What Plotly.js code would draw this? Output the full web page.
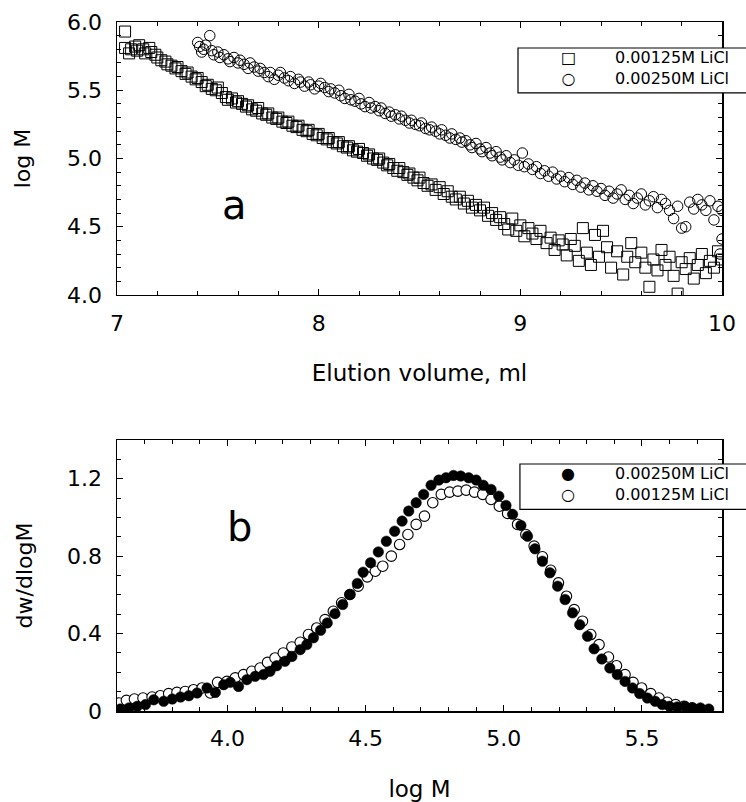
<!DOCTYPE html>
<html>
<head>
<meta charset="utf-8">
<script src="https://cdn.plot.ly/plotly-3.0.1.min.js"></script>
<style>html,body{margin:0;padding:0;background:#fff;}#chart{width:746px;height:802px;}</style>
</head>
<body>
<div id="chart"></div>
<script>
// ---- Panel a: log M vs elution volume ----
const sqVol = [7.04,7.04,7.06,7.07,7.09,7.10,7.11,7.13,7.14,7.16,7.17,7.19,7.20,7.22,7.24,7.25,7.27,7.29,7.30,7.32,7.34,7.35,7.37,7.39,7.40,7.42,7.44,7.45,7.47,7.49,7.50,7.52,7.54,7.55,7.57,7.59,7.60,7.62,7.64,7.65,7.67,7.69,7.70,7.72,7.74,7.75,7.77,7.79,7.80,7.82,7.84,7.85,7.87,7.89,7.90,7.92,7.94,7.95,7.97,7.99,8.00,8.02,8.04,8.05,8.07,8.09,8.10,8.12,8.14,8.15,8.17,8.19,8.20,8.22,8.24,8.25,8.27,8.29,8.30,8.32,8.34,8.35,8.37,8.39,8.40,8.42,8.44,8.45,8.47,8.49,8.50,8.52,8.54,8.56,8.58,8.60,8.62,8.64,8.66,8.68,8.70,8.72,8.74,8.76,8.78,8.80,8.82,8.84,8.86,8.88,8.90,8.92,8.94,8.96,8.98,9.00,9.02,9.04,9.06,9.08,9.10,9.13,9.15,9.17,9.19,9.21,9.23,9.25,9.27,9.29,9.31,9.33,9.35,9.37,9.39,9.41,9.43,9.45,9.48,9.51,9.53,9.55,9.57,9.60,9.62,9.64,9.66,9.68,9.70,9.72,9.74,9.76,9.78,9.80,9.82,9.84,9.86,9.88,9.90,9.92,9.94,9.96,9.98,10.00];
const sqLogM = [5.93,5.81,5.77,5.80,5.82,5.79,5.83,5.80,5.77,5.81,5.78,5.76,5.74,5.72,5.71,5.69,5.68,5.66,5.67,5.64,5.62,5.63,5.60,5.58,5.59,5.56,5.53,5.54,5.51,5.50,5.52,5.48,5.45,5.43,5.44,5.41,5.42,5.40,5.38,5.39,5.36,5.35,5.37,5.33,5.32,5.33,5.30,5.29,5.30,5.27,5.26,5.27,5.24,5.23,5.24,5.21,5.20,5.21,5.18,5.17,5.18,5.15,5.14,5.15,5.12,5.11,5.12,5.09,5.08,5.09,5.06,5.05,5.07,5.04,5.02,5.03,5.00,4.99,5.00,4.97,4.95,4.96,4.93,4.91,4.93,4.90,4.88,4.89,4.86,4.84,4.86,4.82,4.80,4.81,4.77,4.79,4.74,4.76,4.72,4.70,4.72,4.67,4.69,4.64,4.66,4.62,4.64,4.58,4.60,4.55,4.57,4.52,4.48,4.56,4.47,4.51,4.43,4.49,4.45,4.41,4.47,4.38,4.42,4.33,4.40,4.37,4.29,4.41,4.36,4.25,4.49,4.31,4.22,4.44,4.28,4.47,4.35,4.20,4.32,4.15,4.28,4.38,4.24,4.31,4.20,4.06,4.26,4.18,4.33,4.22,4.28,4.14,4.01,4.24,4.19,4.27,4.12,4.22,4.30,4.16,4.25,4.20,4.32,4.26];

const ciVol = [7.40,7.41,7.42,7.43,7.44,7.46,7.47,7.48,7.50,7.51,7.53,7.55,7.56,7.58,7.60,7.61,7.63,7.65,7.66,7.68,7.70,7.71,7.73,7.75,7.76,7.78,7.80,7.81,7.83,7.85,7.86,7.88,7.90,7.91,7.93,7.95,7.96,7.98,8.00,8.01,8.03,8.05,8.06,8.08,8.10,8.11,8.13,8.15,8.16,8.18,8.20,8.21,8.23,8.25,8.26,8.28,8.30,8.31,8.33,8.35,8.36,8.38,8.40,8.41,8.43,8.45,8.46,8.48,8.50,8.51,8.53,8.55,8.56,8.58,8.60,8.61,8.63,8.65,8.66,8.68,8.70,8.71,8.73,8.75,8.76,8.78,8.80,8.81,8.83,8.85,8.86,8.88,8.90,8.91,8.93,8.95,8.97,8.99,9.01,9.02,9.04,9.06,9.08,9.10,9.12,9.14,9.16,9.18,9.20,9.22,9.24,9.26,9.28,9.30,9.32,9.34,9.36,9.38,9.40,9.42,9.44,9.46,9.48,9.50,9.52,9.54,9.56,9.58,9.60,9.62,9.64,9.66,9.68,9.70,9.72,9.74,9.76,9.78,9.80,9.82,9.84,9.86,9.88,9.90,9.92,9.94,9.96,9.98,10.00,10.00,9.99];
const ciLogM = [5.85,5.82,5.78,5.80,5.83,5.90,5.79,5.76,5.78,5.74,5.76,5.73,5.71,5.74,5.70,5.72,5.69,5.66,5.70,5.67,5.64,5.66,5.63,5.60,5.63,5.58,5.61,5.63,5.59,5.57,5.60,5.55,5.58,5.56,5.53,5.56,5.54,5.51,5.53,5.55,5.52,5.49,5.51,5.48,5.50,5.46,5.44,5.47,5.43,5.42,5.44,5.40,5.38,5.41,5.37,5.38,5.35,5.37,5.33,5.34,5.31,5.32,5.29,5.31,5.28,5.26,5.28,5.25,5.24,5.26,5.22,5.21,5.23,5.20,5.18,5.21,5.17,5.15,5.18,5.14,5.15,5.12,5.13,5.10,5.08,5.11,5.07,5.05,5.08,5.04,5.02,5.05,5.01,4.99,5.02,4.97,4.99,4.95,5.04,4.94,4.96,4.92,4.94,4.89,4.91,4.87,4.90,4.85,4.87,4.83,4.86,4.81,4.84,4.79,4.82,4.77,4.80,4.76,4.78,4.73,4.76,4.71,4.74,4.77,4.70,4.73,4.67,4.71,4.74,4.66,4.69,4.72,4.64,4.70,4.67,4.62,4.56,4.65,4.49,4.50,4.68,4.63,4.70,4.66,4.62,4.69,4.55,4.65,4.62,4.41,4.30];

// ---- Panel b: dw/dlogM vs log M ----
const filledLogM = [3.612,3.643,3.673,3.703,3.733,3.769,3.800,3.830,3.860,3.890,3.926,3.956,3.986,4.010,4.040,4.070,4.100,4.130,4.154,4.178,4.208,4.233,4.263,4.287,4.311,4.337,4.361,4.389,4.417,4.443,4.470,4.491,4.518,4.546,4.575,4.605,4.632,4.656,4.683,4.710,4.737,4.765,4.791,4.818,4.844,4.873,4.900,4.926,4.954,4.982,5.008,5.032,5.062,5.086,5.113,5.140,5.167,5.195,5.222,5.249,5.275,5.303,5.327,5.355,5.384,5.411,5.439,5.466,5.492,5.520,5.548,5.574,5.600,5.628,5.656,5.682,5.712,5.742];
const filledDw = [0.010,0.016,0.024,0.033,0.058,0.050,0.062,0.072,0.079,0.093,0.119,0.096,0.136,0.148,0.127,0.162,0.179,0.188,0.205,0.234,0.257,0.282,0.317,0.343,0.378,0.417,0.455,0.503,0.550,0.602,0.659,0.717,0.766,0.822,0.877,0.929,0.981,1.033,1.076,1.119,1.166,1.193,1.205,1.217,1.214,1.205,1.193,1.166,1.145,1.110,1.062,1.016,0.959,0.903,0.838,0.774,0.714,0.645,0.576,0.507,0.446,0.386,0.321,0.269,0.222,0.188,0.153,0.119,0.090,0.067,0.050,0.033,0.024,0.021,0.024,0.016,0.016,0.010];
const openLogM = [3.607,3.634,3.663,3.694,3.727,3.757,3.787,3.817,3.847,3.877,3.908,3.938,3.964,3.998,4.028,4.058,4.088,4.118,4.145,4.172,4.202,4.233,4.263,4.293,4.323,4.353,4.383,4.413,4.443,4.473,4.506,4.535,4.562,4.593,4.623,4.653,4.683,4.713,4.743,4.774,4.804,4.834,4.864,4.894,4.924,4.954,4.984,5.014,5.050,5.080,5.110,5.140,5.170,5.198,5.227,5.255,5.285,5.315,5.345,5.379,5.408,5.439,5.468,5.499,5.532,5.562,5.592,5.622,5.652,5.682];
const openDw = [0.041,0.055,0.062,0.067,0.072,0.079,0.090,0.096,0.101,0.110,0.119,0.093,0.148,0.153,0.171,0.188,0.205,0.222,0.251,0.274,0.300,0.331,0.355,0.395,0.429,0.472,0.515,0.559,0.602,0.645,0.693,0.722,0.748,0.800,0.860,0.912,0.964,1.007,1.076,1.119,1.131,1.136,1.141,1.131,1.119,1.093,1.058,1.021,0.964,0.912,0.852,0.797,0.727,0.662,0.593,0.524,0.464,0.395,0.343,0.279,0.234,0.188,0.148,0.119,0.090,0.067,0.045,0.033,0.024,0.016];

// ---- Tick labels and texts ----
const aXTicks = [7, 8, 9, 10];
const aYTicks = [4.0, 4.5, 5.0, 5.5, 6.0];
const bXTicks = [4.0, 4.5, 5.0, 5.5];
const bXTickText = ["4.0", "4.5", "5.0", "5.5"];
const bYTicks = [0, 0.4, 0.8, 1.2];
const bYTickText = ["0", "0.4", "0.8", "1.2"];
const legendA = ["0.00125M LiCl", "0.00250M LiCl"];
const legendB = ["0.00250M LiCl", "0.00125M LiCl"];

const FONT = "DejaVu Sans, Liberation Sans, Arial, sans-serif";

const traces = [
  {x: sqVol, y: sqLogM, type: "scatter", mode: "markers", name: legendA[0], xaxis: "x", yaxis: "y",
   marker: {symbol: "square-open", size: 11, color: "#000", line: {width: 1, color: "#000"}}},
  {x: ciVol, y: ciLogM, type: "scatter", mode: "markers", name: legendA[1], xaxis: "x", yaxis: "y",
   marker: {symbol: "circle-open", size: 10.5, color: "#000", line: {width: 1, color: "#000"}}},
  {x: openLogM, y: openDw, type: "scatter", mode: "markers", name: legendB[1], xaxis: "x2", yaxis: "y2",
   marker: {symbol: "circle", size: 10.5, color: "#fff", line: {width: 1.1, color: "#000"}}},
  {x: filledLogM, y: filledDw, type: "scatter", mode: "markers", name: legendB[0], xaxis: "x2", yaxis: "y2",
   marker: {symbol: "circle", size: 10.5, color: "#000", line: {width: 0.5, color: "#000"}}}
];

const axisCommon = {
  showline: true, linecolor: "#000", linewidth: 1.5, mirror: "allticks",
  ticks: "inside", ticklen: 6, tickwidth: 1, tickcolor: "#000",
  showgrid: false, zeroline: false, fixedrange: true,
  tickfont: {family: FONT, size: 22, color: "#000"}
};

const layout = {
  width: 746, height: 802,
  margin: {l: 117, r: 24, t: 22, b: 91},
  paper_bgcolor: "#fff", plot_bgcolor: "#fff",
  showlegend: false,
  font: {family: FONT, color: "#000"},
  xaxis: Object.assign({}, axisCommon, {
    domain: [0, 1], anchor: "y", range: [7, 10], tickmode: "array", tickvals: aXTicks,
    minor: {dtick: 0.2, ticks: "inside", ticklen: 4, tickcolor: "#000", showgrid: false},
    ticklabelstandoff: 8,
    title: {text: "Elution volume, ml", font: {family: FONT, size: 23, color: "#000"}, standoff: 30}
  }),
  yaxis: Object.assign({}, axisCommon, {
    domain: [0.6038, 1], anchor: "x", range: [4, 6], tickmode: "array", tickvals: aYTicks, tickformat: ".1f",
    minor: {dtick: 0.1, ticks: "inside", ticklen: 4, tickcolor: "#000", showgrid: false},
    ticklabelstandoff: 9,
    title: {text: "log M", font: {family: FONT, size: 22, color: "#000"}, standoff: 30}
  }),
  xaxis2: Object.assign({}, axisCommon, {
    domain: [0, 1], anchor: "y2", range: [3.6, 5.79], tickmode: "array", tickvals: bXTicks, ticktext: bXTickText,
    minor: {dtick: 0.1, ticks: "inside", ticklen: 4, tickcolor: "#000", showgrid: false},
    ticklabelstandoff: 7,
    title: {text: "log M", font: {family: FONT, size: 23, color: "#000"}, standoff: 39}
  }),
  yaxis2: Object.assign({}, axisCommon, {
    domain: [0, 0.3933], anchor: "x2", range: [0, 1.4], tickmode: "array", tickvals: bYTicks, ticktext: bYTickText,
    minor: {dtick: 0.1, ticks: "inside", ticklen: 4, tickcolor: "#000", showgrid: false},
    ticklabelstandoff: 9,
    title: {text: "dw/dlogM", font: {family: FONT, size: 22, color: "#000"}, standoff: 28}
  }),
  shapes: [
    {type: "rect", xref: "paper", yref: "paper", x0: 0.6628, x1: 1.06, y0: 0.897, y1: 0.9623,
     line: {color: "#000", width: 1.2}, fillcolor: "#fff", layer: "above"},
    {type: "rect", xref: "paper", yref: "paper", x0: 0.666, x1: 1.06, y0: 0.2927, y1: 0.3585,
     line: {color: "#000", width: 1.2}, fillcolor: "#fff", layer: "above"}
  ],
  annotations: [
    {text: "a", xref: "x domain", yref: "y domain", x: 0.195, y: 0.33, xanchor: "center", yanchor: "middle",
     showarrow: false, font: {family: FONT, size: 40, color: "#000"}},
    {text: "b", xref: "x2 domain", yref: "y2 domain", x: 0.203, y: 0.68, xanchor: "center", yanchor: "middle",
     showarrow: false, font: {family: FONT, size: 40, color: "#000"}},
    // legend a
    {text: "\u25A1<br>\u25CB", xref: "paper", yref: "paper", x: 0.7455, y: 0.9332, xanchor: "center", yanchor: "middle",
     showarrow: false, font: {family: FONT, size: 16, color: "#000"}},
    {text: legendA.join("<br>"), xref: "paper", yref: "paper", x: 0.8198, y: 0.9332, xanchor: "left", yanchor: "middle",
     align: "left", showarrow: false, font: {family: FONT, size: 16, color: "#000"}},
    // legend b
    {text: "\u25CF<br>\u25CB", xref: "paper", yref: "paper", x: 0.7455, y: 0.3295, xanchor: "center", yanchor: "middle",
     showarrow: false, font: {family: FONT, size: 16, color: "#000"}},
    {text: legendB.join("<br>"), xref: "paper", yref: "paper", x: 0.8198, y: 0.3295, xanchor: "left", yanchor: "middle",
     align: "left", showarrow: false, font: {family: FONT, size: 16, color: "#000"}}
  ]
};

Plotly.newPlot("chart", traces, layout, {displayModeBar: false, staticPlot: true});
</script>
</body>
</html>
